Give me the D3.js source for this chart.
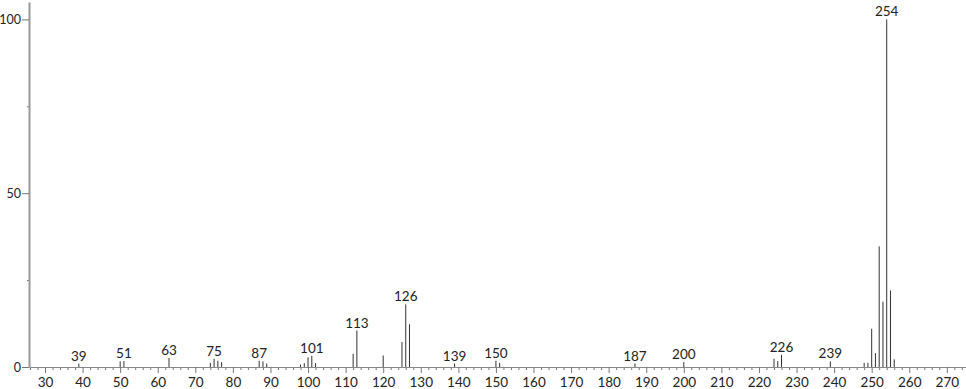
<!DOCTYPE html>
<html>
<head>
<meta charset="utf-8">
<script src="https://cdn.jsdelivr.net/npm/d3@7"></script>
<style>
  html, body { margin: 0; padding: 0; background: #fff; }
  svg { display: block; }
  text { font-family: "Lato", "Open Sans", sans-serif; fill: #222; }
</style>
</head>
<body>
<svg id="chart" width="966" height="389"></svg>
<script>
// m/z values and relative intensities (%)
const mz = [39, 50, 51, 63, 74, 75, 76, 77, 87, 88, 89, 98, 99, 100, 101, 102,
            112, 113, 120, 125, 126, 127, 139, 150, 151, 187, 200,
            224, 225, 226, 239, 248, 249, 250, 251, 252, 253, 254, 255, 256];
const intensity = [1.0, 1.6, 1.7, 2.6, 1.2, 2.4, 1.8, 1.4, 1.8, 1.6, 1.0, 0.7, 1.1, 2.8, 3.2, 1.1,
                   3.8, 10.5, 3.3, 7.2, 18.0, 12.3, 1.0, 1.8, 1.2, 1.0, 1.4,
                   2.4, 1.7, 3.5, 1.6, 1.2, 1.2, 11.0, 4.0, 34.7, 18.8, 100, 22.0, 2.2];
const labeledPeaks = [39, 51, 63, 75, 87, 101, 113, 126, 139, 150, 187, 200, 226, 239, 254];
const xTickValues = [30, 40, 50, 60, 70, 80, 90, 100, 110, 120, 130, 140, 150, 160, 170,
                     180, 190, 200, 210, 220, 230, 240, 250, 260, 270];
const xMinorTickValues = d3.range(26, 276, 2).filter(v => v % 10 !== 0);
const yTickValues = [0, 50, 100];
const yMinorTickValues = [25, 75];

const svg = d3.select("#chart");
const x = d3.scaleLinear().domain([25.74, 275.1]).range([29, 966]);
const y = d3.scaleLinear().domain([0, 105]).range([367, 2]);

const peaks = mz.map((m, i) => ({ m, v: intensity[i] }));

// x axis minor ticks
const gxMinor = svg.append("g").attr("transform", `translate(0,${y(0)})`)
  .call(d3.axisBottom(x).tickValues(xMinorTickValues).tickSize(3).tickSizeOuter(0).tickFormat(""));
gxMinor.select(".domain").remove();
gxMinor.selectAll("line").attr("stroke", "#777");

// x axis major
const gx = svg.append("g").attr("transform", `translate(0,${y(0)})`)
  .call(d3.axisBottom(x).tickValues(xTickValues).tickSize(6).tickSizeOuter(0).tickPadding(4));
gx.select(".domain").attr("stroke", "#888").attr("stroke-width", 1);
gx.selectAll(".tick line").attr("stroke", "#777");
gx.selectAll(".tick text").attr("font-size", "13.5px").attr("fill", "#222")
  .style("font-family", '"Lato", "Open Sans", sans-serif');

// y axis
const gyMinor = svg.append("g").attr("transform", `translate(${x.range()[0]},0)`)
  .call(d3.axisLeft(y).tickValues(yMinorTickValues).tickSize(2).tickSizeOuter(0).tickFormat(""));
gyMinor.select(".domain").remove();
gyMinor.selectAll("line").attr("stroke", "#777");

const gy = svg.append("g").attr("transform", `translate(${x.range()[0]},0)`)
  .call(d3.axisLeft(y).tickValues(yTickValues).tickSize(7).tickSizeOuter(0).tickPadding(1));
gy.select(".domain").attr("stroke", "#999").attr("stroke-width", 2);
gy.selectAll(".tick line").attr("stroke", "#777");
gy.selectAll(".tick text").attr("font-size", "12.5px").attr("fill", "#222")
  .style("font-family", '"Lato", "Open Sans", sans-serif');

// peaks
svg.append("g").selectAll("line").data(peaks).join("line")
  .attr("x1", d => x(d.m)).attr("x2", d => x(d.m))
  .attr("y1", y(0)).attr("y2", d => y(d.v))
  .attr("stroke", "#333").attr("stroke-width", 1);

// peak labels
svg.append("g").selectAll("text").data(peaks.filter(d => labeledPeaks.includes(d.m))).join("text")
  .attr("x", d => x(d.m)).attr("y", d => y(d.v) - 3)
  .attr("text-anchor", "middle").attr("font-size", "13.5px")
  .text(d => d.m);
</script>
</body>
</html>
